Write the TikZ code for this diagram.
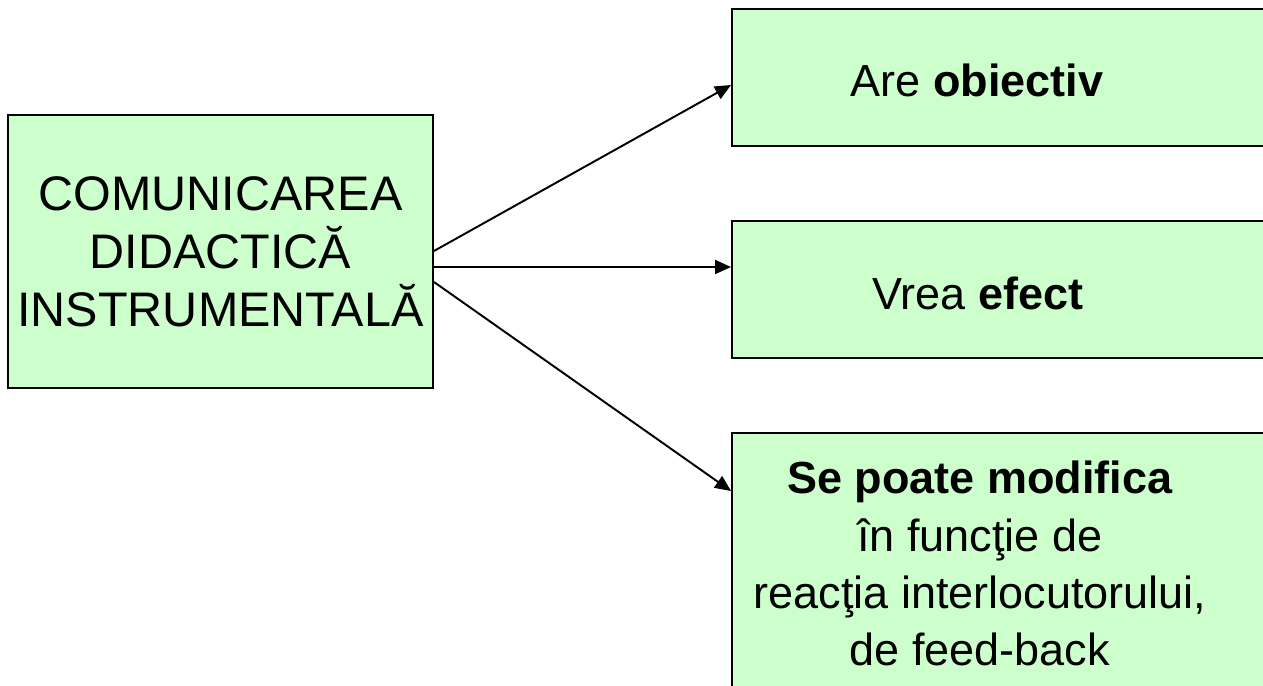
\documentclass[tikz,border=0pt]{standalone}
\usepackage{fontspec}
\setmainfont{Liberation Sans}
\usetikzlibrary{arrows.meta}
\definecolor{boxgreen}{HTML}{CCFFCC}
\tikzset{
  box/.style={draw, line width=1.1pt, fill=boxgreen, rectangle, inner sep=0pt},
  txt/.style={font=\fontsize{25.6}{32.5}\selectfont, align=center, inner sep=0pt},
  bigtxt/.style={font=\fontsize{27.6}{33}\selectfont, align=center, inner sep=0pt},
}
\begin{document}
\begin{tikzpicture}
\useasboundingbox (0,0) rectangle (25.26,13.70);
\node[box, bigtxt, minimum width=8.5cm, minimum height=5.46cm] (com) at (4.41,8.67) {COMUNICAREA\\DIDACTICĂ\\INSTRUMENTALĂ};
\node[box, minimum width=11.36cm, minimum height=2.74cm] (are) at (20.32,12.15) {};
\node[box, minimum width=11.36cm, minimum height=2.74cm] (vrea) at (20.32,7.91) {};
\node[box, minimum width=11.36cm, minimum height=5.54cm] (mod) at (20.32,2.27) {};
\node[txt, anchor=base] (aretxt) at (19.54,11.76) {Are \textbf{obiectiv}};
\node[txt, anchor=base] (vreatxt) at (19.56,7.52) {Vrea \textbf{efect}};
\node[txt] (modtxt) at (19.6,2.43) {\textbf{Se poate modifica}\\în funcţie de\\reacţia interlocutorului,\\de feed-back};
\path[draw,line width=1.1pt,-{Triangle[length=0.32cm,width=0.28cm]}] ([yshift=0.01cm]com.east) -- ([yshift=-0.15cm]are.west);
\path[draw,line width=1.1pt,-{Triangle[length=0.32cm,width=0.28cm]}] ([yshift=-0.31cm]com.east) -- ([yshift=0.45cm]vrea.west);
\path[draw,line width=1.1pt,-{Triangle[length=0.32cm,width=0.28cm]}] ([yshift=-0.61cm]com.east) -- ([yshift=-1.18cm]mod.north west);
\end{tikzpicture}
\end{document}
